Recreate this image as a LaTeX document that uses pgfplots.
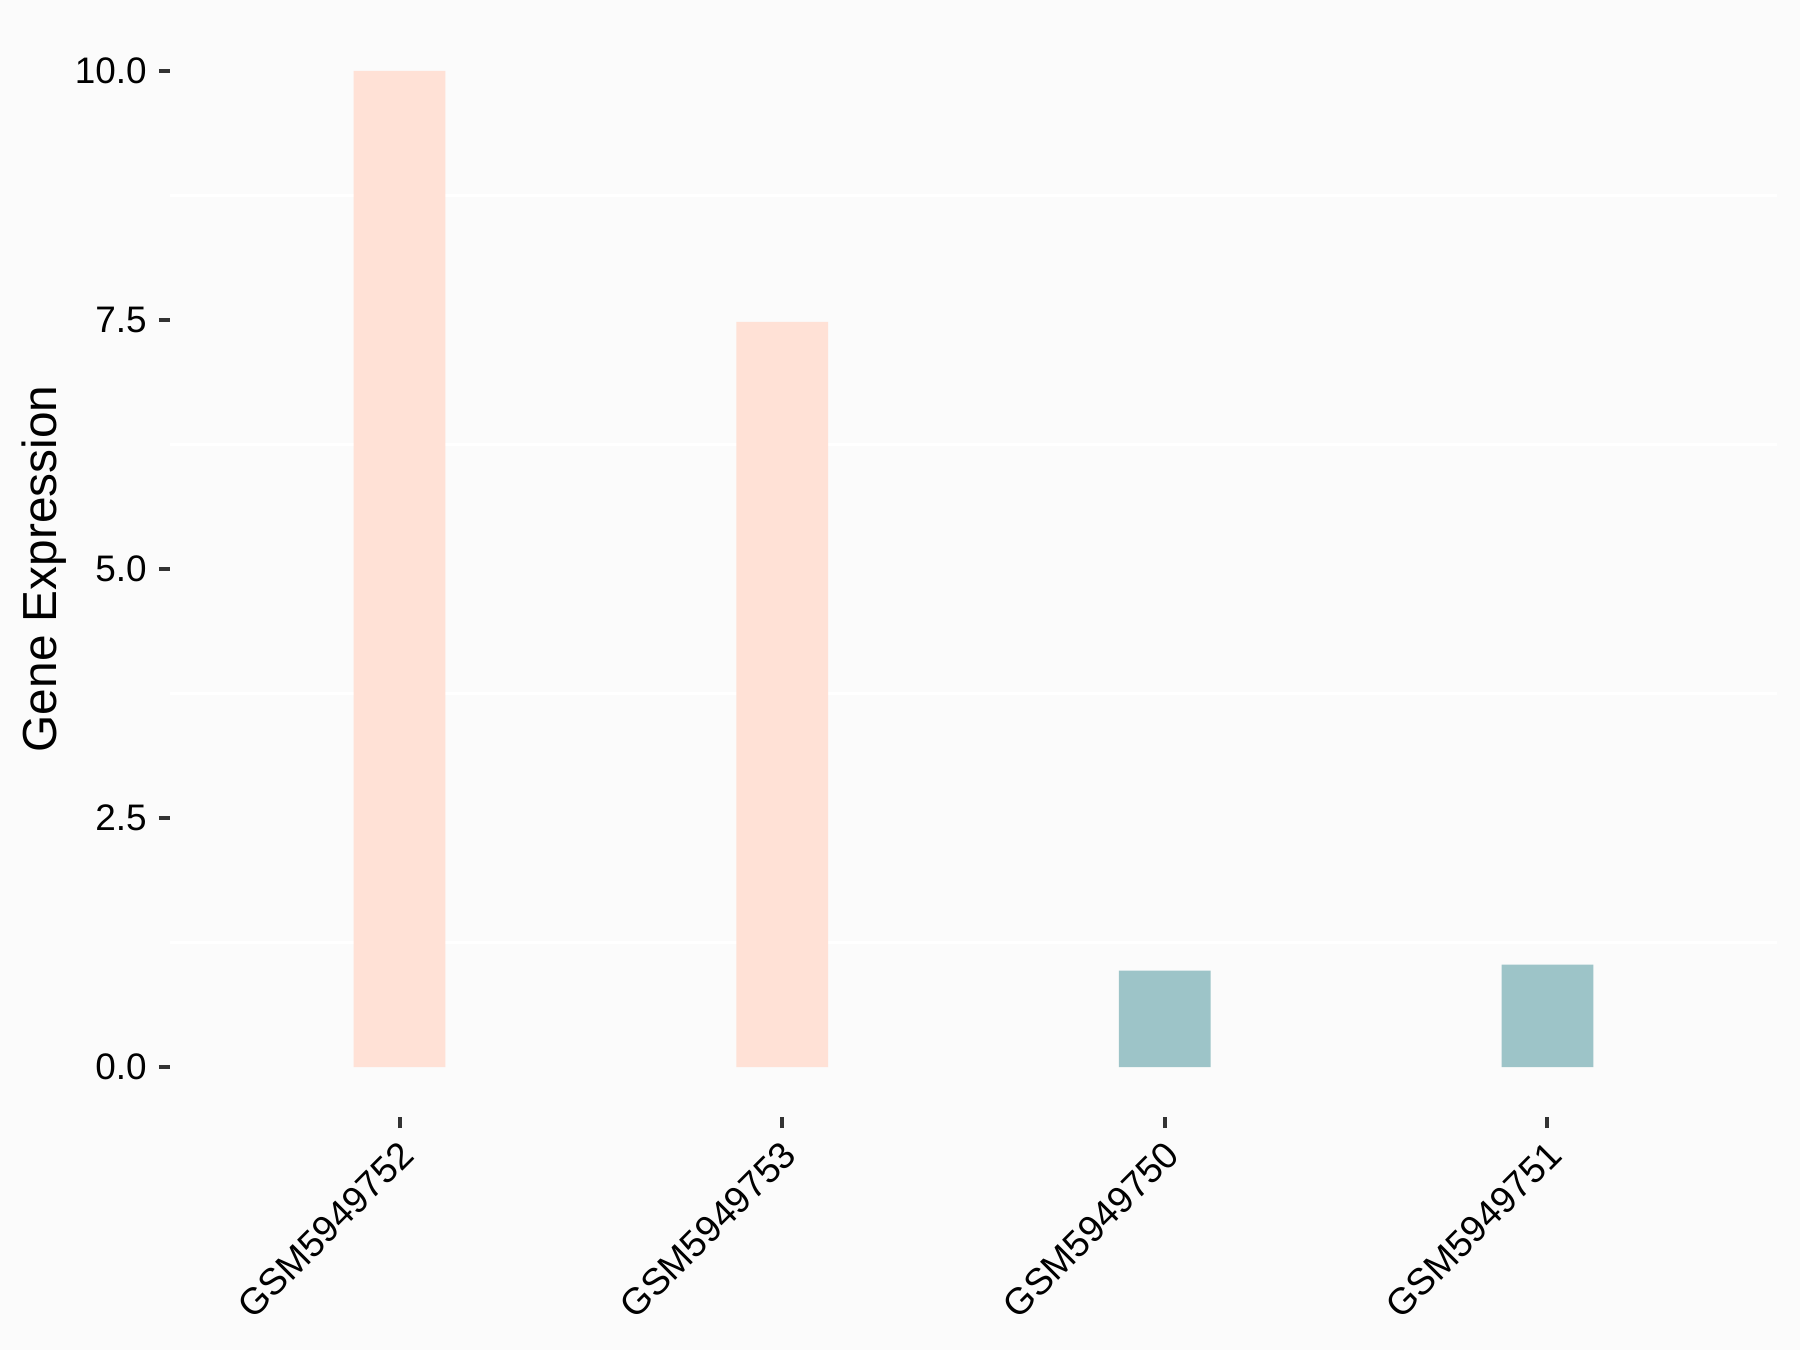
\documentclass[border=0pt]{standalone}
\usepackage{pgfplots}
\pgfplotsset{compat=1.18}
\usepackage{fontspec}
\setmainfont{Liberation Sans}
\definecolor{bgcol}{HTML}{FBFBFB}
\definecolor{pinkbar}{HTML}{FFE1D6}
\definecolor{tealbar}{HTML}{9DC4C8}
\definecolor{tickcol}{HTML}{333333}
\begin{document}
\begin{tikzpicture}[x=1cm,y=1cm]
\fill[bgcol] (-1.70,-2.33) rectangle (16.30,11.17);
\useasboundingbox (-1.70,-2.33) rectangle (16.30,11.17);
\begin{axis}[
  at={(0,0)}, anchor=south west,
  scale only axis, width=16.07cm, height=10.96cm,
  xmin=0.4, xmax=4.6, ymin=-0.5, ymax=10.5,
  axis line style={draw=none},
  xtick={1,2,3,4},
  xticklabels={GSM5949752,GSM5949753,GSM5949750,GSM5949751},
  ytick={0,2.5,5,7.5,10},
  minor ytick={1.25,3.75,6.25,8.75},
  yminorgrids=true, ymajorgrids=false,
  minor grid style={white, line width=0.8pt},
  minor tick length=0pt,
  major tick length=0.11cm,
  tick align=outside,
  tick style={color=tickcol, line width=1.1pt},
  xtick pos=bottom, ytick pos=left,
  /pgf/number format/assume math mode=true,
  yticklabel style={/pgf/number format/fixed, /pgf/number format/fixed zerofill, /pgf/number format/precision=1, font=\fontsize{10.5}{12}\selectfont, color=black},
  xticklabel style={rotate=45, anchor=north east, xshift=0.03cm, yshift=0.06cm, font=\fontsize{10.6}{12}\selectfont, color=black},
  ylabel={Gene Expression},
  ylabel style={at={(axis description cs:-0.0784,0.5)}, anchor=center, font=\fontsize{13.6}{16}\selectfont},
  ybar, bar width=0.24,
]
\addplot[fill=pinkbar, draw=none, bar shift=0pt] coordinates {(1,10.0) (2,7.48)};
\addplot[fill=tealbar, draw=none, bar shift=0pt] coordinates {(3,0.97) (4,1.03)};
\end{axis}
\end{tikzpicture}
\end{document}
